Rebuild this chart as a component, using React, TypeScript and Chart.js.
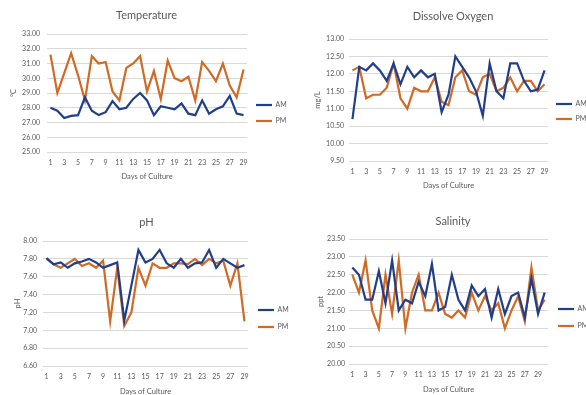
import React, { useEffect, useRef } from 'react';
import { Chart, registerables } from 'chart.js';

Chart.register(...registerables);
Chart.defaults.font.family = 'Lato, "Open Sans", sans-serif';
Chart.defaults.color = '#595959';

// ---------- data ----------
const days29 = ['1','2','3','4','5','6','7','8','9','10','11','12','13','14','15','16','17','18','19','20','21','22','23','24','25','26','27','28','29'];
const days30 = ['1','2','3','4','5','6','7','8','9','10','11','12','13','14','15','16','17','18','19','20','21','22','23','24','25','26','27','28','29','30'];

const tempAM = [28.0,27.8,27.3,27.45,27.5,28.7,27.8,27.5,27.7,28.45,27.9,28.0,28.6,29.0,28.5,27.5,28.1,28.0,27.9,28.3,27.6,27.5,28.5,27.6,27.9,28.1,28.8,27.6,27.5];
const tempPM = [31.6,29.0,30.35,31.7,30.2,28.5,31.5,31.0,31.1,29.1,28.5,30.7,31.0,31.5,29.1,30.5,28.6,31.2,30.0,29.8,30.1,28.5,31.1,30.5,29.8,31.0,29.5,28.7,30.6];

const doAM = [10.7,12.2,12.1,12.3,12.1,11.8,12.3,11.7,12.2,11.9,12.1,11.9,12.0,10.9,11.4,12.5,12.2,11.9,11.5,10.8,12.3,11.5,11.3,12.3,12.3,11.8,11.5,11.55,12.1];
const doPM = [12.1,12.2,11.3,11.4,11.4,11.6,12.3,11.3,11.0,11.6,11.5,11.5,11.9,11.2,11.1,11.9,12.1,11.5,11.4,11.9,12.0,11.5,11.6,11.9,11.5,11.8,11.8,11.5,11.7];

const phAM = [7.81,7.74,7.76,7.70,7.75,7.77,7.80,7.76,7.70,7.73,7.76,7.11,7.50,7.90,7.76,7.80,7.90,7.75,7.70,7.80,7.70,7.75,7.76,7.90,7.70,7.80,7.75,7.70,7.73];
const phPM = [7.80,7.74,7.70,7.75,7.80,7.72,7.75,7.70,7.78,7.10,7.70,7.05,7.20,7.70,7.50,7.75,7.70,7.70,7.75,7.75,7.74,7.80,7.73,7.80,7.75,7.78,7.50,7.75,7.10];

const salAM = [22.7,22.5,21.8,21.8,22.6,21.7,22.9,21.5,21.8,21.7,22.3,21.9,22.8,21.5,21.6,22.5,21.8,21.5,22.2,21.9,22.1,21.3,22.1,21.4,21.9,22.0,21.3,22.4,21.4,22.0];
const salPM = [22.5,22.0,22.9,21.5,21.0,22.5,21.4,22.9,21.0,22.0,22.5,21.5,21.5,22.0,21.4,21.3,21.5,21.3,22.0,21.5,21.9,21.5,21.7,21.0,21.5,21.9,21.2,22.7,21.5,21.8];

const seriesNames = ['AM', 'PM'];
const xTitle = 'Days of Culture';

const AM_COLOR = '#203E8A';
const PM_COLOR = '#D06A24';
const GRID = '#d9d9d9';

type Spec = {
  title: string; yTitle: string; labels: string[]; am: number[]; pm: number[];
  min: number; max: number; step: number;
  left: number; top: number; w: number; h: number;
  plotLeft: number; plotRight: number; plotTop: number; plotBottom: number;
  titleY: number; tickY: number; yTitleX: number; yTickPad: number;
  legendY: number; legendPad: number;
};

function LineChart({ s }: { s: Spec }) {
  const ref = useRef<HTMLCanvasElement | null>(null);
  useEffect(() => {
    const canvas = ref.current;
    if (!canvas) return;
    const legendWidth = s.w - s.plotRight;
    const fixLegend = {
      id: 'fixLegend',
      beforeLayout(chart: any) {
        const lg = chart.legend;
        if (lg && !lg.__patched) {
          const orig = lg.fit;
          lg.fit = function () { orig.call(this); this.width = legendWidth; };
          lg.__patched = true;
        }
      },
    };
    const titleLH = 11 * 1.2;
    const tickLH = 7 * 1.2;
    const xTitleLH = 7.5 * 1.2;
    const chart = new Chart(canvas, {
      type: 'line',
      data: {
        labels: s.labels,
        datasets: [
          { label: seriesNames[0], data: s.am, borderColor: AM_COLOR, backgroundColor: AM_COLOR, borderWidth: 2.2, pointRadius: 0, tension: 0 },
          { label: seriesNames[1], data: s.pm, borderColor: PM_COLOR, backgroundColor: PM_COLOR, borderWidth: 2.2, pointRadius: 0, tension: 0 },
        ],
      },
      options: {
        animation: false,
        responsive: false,
        maintainAspectRatio: false,
        layout: { padding: 0 },
        plugins: {
          tooltip: { enabled: false },
          title: {
            display: true, text: s.title, color: '#595959',
            font: { size: 11, weight: 'normal' },
            padding: { top: s.titleY - titleLH / 2, bottom: s.plotTop - s.titleY - titleLH / 2 },
          },
          legend: {
            position: 'right', align: 'start', fullSize: true,
            title: { display: true, text: '', font: { size: 1, lineHeight: 1 }, padding: { top: s.legendY - 1 - s.legendPad - 3.5, bottom: 0 } },
            labels: { usePointStyle: true, pointStyle: 'line', pointStyleWidth: 16, padding: s.legendPad, font: { size: 7 }, color: '#595959' },
          },
        },
        scales: {
          x: {
            type: 'category', offset: true,
            grid: { display: false, drawTicks: false },
            border: { display: false },
            ticks: {
              autoSkip: false, maxRotation: 0, minRotation: 0,
              padding: s.tickY - s.plotBottom - tickLH / 2,
              font: { size: 7 }, color: '#595959',
              callback: (_v: any, i: number) => (i % 2 === 0 ? s.labels[i] : ''),
            },
            title: { display: true, text: xTitle, color: '#595959', font: { size: 7.5 }, padding: { top: 0, bottom: 0 } },
            afterFit: (sc: any) => { sc.height = s.h - s.plotBottom; },
          },
          y: {
            min: s.min, max: s.max,
            grid: { color: GRID, drawTicks: false, lineWidth: 1 },
            border: { display: false },
            ticks: { stepSize: s.step, padding: s.yTickPad, font: { size: 7 }, color: '#595959', callback: (v: any) => Number(v).toFixed(2) },
            title: { display: true, text: s.yTitle, color: '#595959', font: { size: 7.5 }, padding: { top: s.yTitleX - xTitleLH / 2, bottom: 0 } },
            afterFit: (sc: any) => { sc.width = s.plotLeft; },
          },
        },
      },
      plugins: [fixLegend],
    } as any);
    return () => chart.destroy();
  }, [s]);
  return (
    <canvas
      ref={ref}
      width={s.w}
      height={s.h}
      style={{ position: 'absolute', left: s.left, top: s.top, width: s.w, height: s.h }}
    />
  );
}

const specs: Spec[] = [
  {
    title: 'Temperature', yTitle: '°C', labels: days29, am: tempAM, pm: tempPM, min: 25, max: 33, step: 1,
    left: 0, top: 0, w: 293, h: 181,
    plotLeft: 47, plotRight: 247, plotTop: 34, plotBottom: 152,
    titleY: 15, tickY: 163, yTitleX: 14, yTickPad: 7, legendY: 105, legendPad: 9,
  },
  {
    title: 'Dissolve Oxygen', yTitle: 'mg/L', labels: days29, am: doAM, pm: doPM, min: 9.5, max: 13, step: 0.5,
    left: 293, top: 0, w: 320, h: 190,
    plotLeft: 56, plotRight: 255, plotTop: 39, plotBottom: 161,
    titleY: 16, tickY: 172, yTitleX: 25, yTickPad: 5, legendY: 104, legendPad: 8,
  },
  {
    title: 'pH', yTitle: 'pH', labels: days29, am: phAM, pm: phPM, min: 6.6, max: 8.0, step: 0.2,
    left: 0, top: 200, w: 293, h: 196,
    plotLeft: 43, plotRight: 248, plotTop: 41, plotBottom: 166,
    titleY: 22, tickY: 177, yTitleX: 18, yTickPad: 6, legendY: 110, legendPad: 10,
  },
  {
    title: 'Salinity', yTitle: 'ppt', labels: days30, am: salAM, pm: salPM, min: 20, max: 23.5, step: 0.5,
    left: 293, top: 200, w: 320, h: 194,
    plotLeft: 56, plotRight: 255, plotTop: 39, plotBottom: 164,
    titleY: 21, tickY: 175, yTitleX: 28, yTickPad: 4, legendY: 109, legendPad: 10,
  },
];

export default function App() {
  return (
    <div style={{ position: 'fixed', left: 0, top: 0, width: 586, height: 395, overflow: 'hidden', background: '#fff' }}>
      {specs.map((s) => (
        <LineChart key={s.title} s={s} />
      ))}
    </div>
  );
}
